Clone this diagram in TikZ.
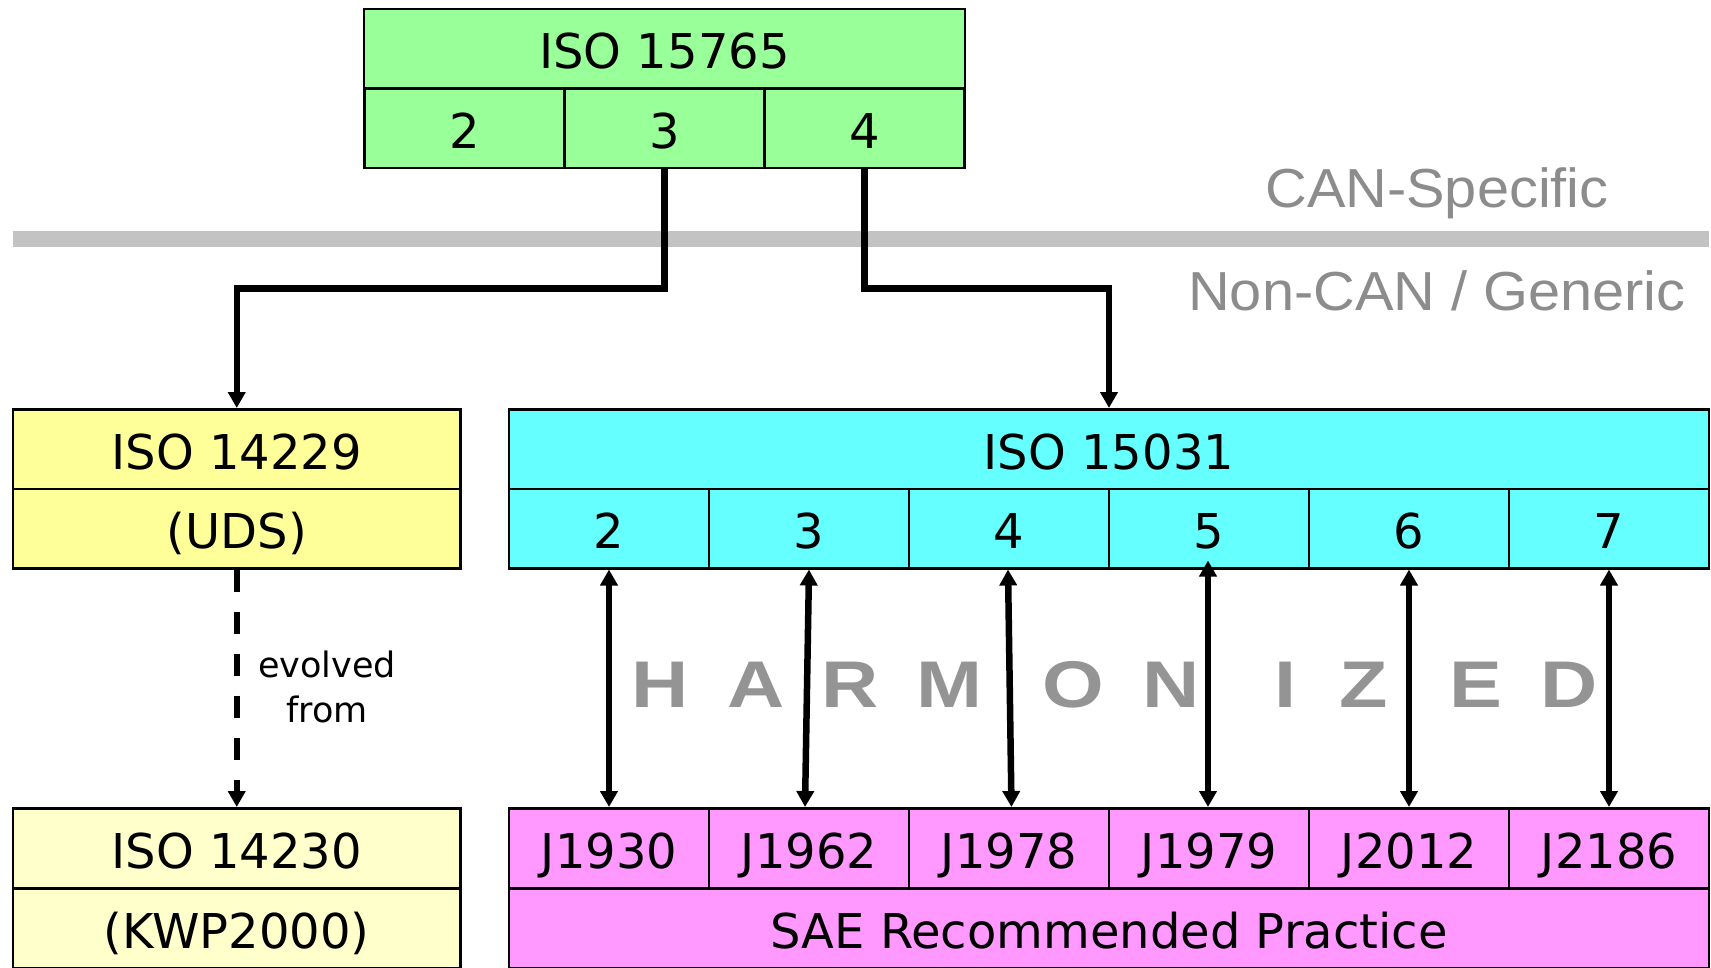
\documentclass[tikz,border=0pt]{standalone}
\usepackage{fontspec}
\setmainfont{DejaVu Sans}
\newfontfamily\labelfont[FakeStretch=1.05]{Liberation Sans}
\newfontfamily\harmfont[FakeStretch=1.2]{Liberation Sans}
\usetikzlibrary{arrows.meta,calc}
\definecolor{cgreen}{HTML}{99FF99}
\definecolor{cyellow}{HTML}{FFFF99}
\definecolor{cpale}{HTML}{FFFFCC}
\definecolor{ccyan}{HTML}{66FFFF}
\definecolor{cmagenta}{HTML}{FF99FF}
\definecolor{cbar}{RGB}{195,195,195}
\definecolor{glabel}{RGB}{140,140,140}
\definecolor{gharm}{RGB}{148,148,148}
\begin{document}
\begin{tikzpicture}[x=1pt,y=-1pt,
  cell/.style={draw=black, line width=2.5pt, rectangle, inner sep=0pt,
    minimum height=79.5pt, text height=44pt, text depth=4pt,
    font=\fontsize{48}{58}\selectfont},
  conn/.style={line width=6.5pt, -{Triangle[width=17pt,length=16pt]}},
  dbl/.style={line width=6.5pt, {Triangle[width=17pt,length=16pt]}-{Triangle[width=17pt,length=16pt]}},
  glab/.style={text=glabel, inner sep=0pt, font=\labelfont\fontsize{55}{60}\selectfont},
  harm/.style={text=gharm, inner sep=0pt, font=\harmfont\bfseries\fontsize{66}{72}\selectfont}]
\useasboundingbox (0,0) rectangle (1711,967);

% separator bar
\fill[cbar] (13,231) rectangle (1709,247);
\node[glab, anchor=base] (canspec) at (1437,207) {CAN-Specific};
\node[glab, anchor=base] (noncan) at (1437,310) {Non-CAN / Generic};

% ISO 15765
\node[cell, fill=cgreen, minimum width=601pt] (g) at (664.5,48.75) {ISO 15765};
\node[cell, fill=cgreen, minimum width=200pt] (g2) at (464.5,128.25) {2};
\node[cell, fill=cgreen, minimum width=200pt] (g3) at (664.5,128.25) {3};
\node[cell, fill=cgreen, minimum width=200pt] (g4) at (864.5,128.25) {4};

% ISO 14229
\node[cell, fill=cyellow, minimum width=447.5pt] (y1) at (236.75,449) {ISO 14229};
\node[cell, fill=cyellow, minimum width=447.5pt] (y2) at (236.75,528.5) {(UDS)};

% ISO 14230
\node[cell, fill=cpale, minimum width=447.5pt] (l1) at (236.75,848) {ISO 14230};
\node[cell, fill=cpale, minimum width=447.5pt] (l2) at (236.75,928) {(KWP2000)};

% ISO 15031
\node[cell, fill=ccyan, minimum width=1200pt] (c1) at (1109,449) {ISO 15031};
\foreach \n/\x in {2/609,3/809,4/1009,5/1209,6/1409,7/1609}
  \node[cell, fill=ccyan, minimum width=200pt] (c\n) at (\x,528.5) {\n};

% SAE
\foreach \t/\x [count=\i] in {J1930/609,J1962/809,J1978/1009,J1979/1209,J2012/1409,J2186/1609}
  \node[cell, fill=cmagenta, minimum width=200pt] (m\i) at (\x,848) {\t};
\node[cell, fill=cmagenta, minimum width=1200pt] (sae) at (1109,928) {SAE Recommended Practice};

% connectors
\draw[conn] (g3.south) -- ++(0,119) -| (y1.north);
\draw[conn] (g4.south) -- ++(0,119) -| (c1.north);
\draw[conn, dash pattern=on 22pt off 20pt] (y2.south) -- (l1.north);
\node[inner sep=0pt, align=center, font=\fontsize{35}{45}\selectfont] (evo) at (327,687) {evolved\\from};

\draw[dbl] (c2.south) -- (m1.north);
\draw[dbl] (c3.south) -- ($(m2.north)+(-4,0)$);
\draw[dbl] ($(c4.south)+(-1,0)$) -- ($(m3.north)+(2.5,0)$);
\draw[dbl] ($(c5.south)+(-1,-9)$) -- ($(m4.north)+(-1,0)$);
\draw[dbl] (c6.south) -- (m5.north);
\draw[dbl] (c7.south) -- (m6.north);

% HARMONIZED
\foreach \l/\x [count=\i] in {H/660,A/756,R/850,M/949,O/1073,N/1171,I/1285,Z/1364,E/1476,D/1569}
  \node[harm, anchor=base] (h\i) at (\x,707) {\l};
\end{tikzpicture}
\end{document}
